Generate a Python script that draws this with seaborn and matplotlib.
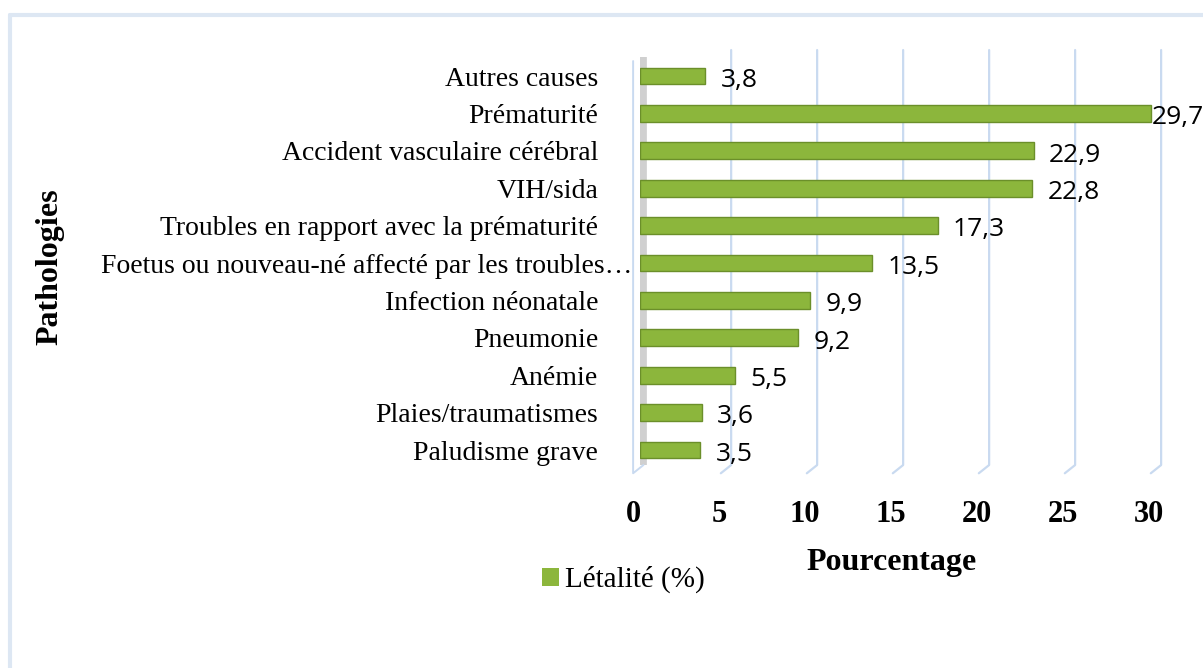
import numpy as np
import pandas as pd
import matplotlib
matplotlib.use("Agg")
import matplotlib.pyplot as plt
import matplotlib.transforms as mtransforms
from matplotlib.lines import Line2D
from matplotlib.patches import Patch
import seaborn as sns

pathologies = [
    "Autres causes",
    "Prématurité",
    "Accident vasculaire cérébral",
    "VIH/sida",
    "Troubles en rapport avec la prématurité",
    "Foetus ou nouveau-né affecté par les troubles…",
    "Infection néonatale",
    "Pneumonie",
    "Anémie",
    "Plaies/traumatismes",
    "Paludisme grave",
]
letalite = [3.8, 29.7, 22.9, 22.8, 17.3, 13.5, 9.9, 9.2, 5.5, 3.6, 3.5]
x_ticks = [0, 5, 10, 15, 20, 25, 30]

df = pd.DataFrame({"Pathologie": pathologies, "Letalite": letalite})

sns.set_style("white")
plt.rcParams["font.family"] = ["Liberation Serif", "DejaVu Serif"]
plt.rcParams["text.color"] = "black"
plt.rcParams["xtick.color"] = "black"
plt.rcParams["ytick.color"] = "black"
plt.rcParams["axes.labelcolor"] = "black"

bar_color = "#8cb63c"
grid_color = "#c9daf0"

fig = plt.figure(figsize=(12.03, 6.68), dpi=100)
ax = fig.add_axes([0.532, 0.2904, 0.4289, 0.6347])

sns.barplot(
    data=df,
    y="Pathologie",
    x="Letalite",
    orient="h",
    color=bar_color,
    edgecolor="#6b8f2a",
    linewidth=1,
    width=0.45,
    saturation=1,
    ax=ax,
    zorder=3,
)

ax.set_xlim(0, 30)
ax.set_ylim(10.64, -0.695)

# gridlines with a slanted foot, like the 3D floor
for v in x_ticks[1:]:
    ax.plot([v + 0.3, v + 0.3, v - 0.3], [-0.695, 10.4, 10.62],
            color=grid_color, lw=1.6, zorder=1, clip_on=False)
# left wall
ax.plot([0.1, 0.1], [-0.5, 10.4], color="#d0d0d0", lw=7, zorder=2,
        solid_capstyle="butt")
ax.plot([-0.4, -0.4, 0.2], [-0.4, 10.62, 10.4], color=grid_color, lw=1.4,
        zorder=2, clip_on=False)

for i, v in enumerate(letalite):
    # excel pulls the label in when it runs out of room
    off = 1 if v > 29 else 11
    ax.annotate(
        f"{v:.1f}".replace(".", ","),
        xy=(v, i),
        xytext=(off, -3),
        textcoords="offset points",
        ha="left",
        va="center",
        fontsize=19,
        family=["Open Sans", "DejaVu Sans"],
        color="black",
        annotation_clip=False,
    )

for s in ax.spines.values():
    s.set_visible(False)

ax.set_xticks(x_ticks)
ax.set_xticklabels([str(t) for t in x_ticks], fontsize=22, fontweight="bold")
ax.tick_params(axis="x", length=0, pad=19)
ax.tick_params(axis="y", length=0, pad=30, labelsize=20)
for lab in ax.get_xticklabels():
    lab.set_transform(lab.get_transform() + mtransforms.ScaledTranslation(
        -7 / 100, 0, fig.dpi_scale_trans))
long_lab = ax.get_yticklabels()[5]
long_lab.set_transform(long_lab.get_transform() + mtransforms.ScaledTranslation(
    34 / 100, 0, fig.dpi_scale_trans))

ax.set_xlabel("Pourcentage", fontsize=23, fontweight="bold")
ax.xaxis.set_label_coords(0.487, -0.175)
ax.set_ylabel("Pathologies", fontsize=23, fontweight="bold")
ax.yaxis.set_label_coords(-1.115, 0.49)

handle = Patch(facecolor=bar_color, edgecolor="none")
fig.legend(
    [handle], ["Létalité (%)"],
    loc="center",
    bbox_to_anchor=(0.518, 0.132),
    frameon=False,
    fontsize=21,
    handlelength=0.6,
    handleheight=0.6,
    handletextpad=0.2,
)

# light outer frame (top and left sides visible)
fig.add_artist(Line2D([0.0079, 0.0079], [0.0, 0.9775], color="#dde7f3",
                      lw=3, transform=fig.transFigure))
fig.add_artist(Line2D([0.0079, 1.0], [0.9775, 0.9775], color="#dde7f3",
                      lw=3, transform=fig.transFigure))

fig.savefig("out.png", dpi=100)
